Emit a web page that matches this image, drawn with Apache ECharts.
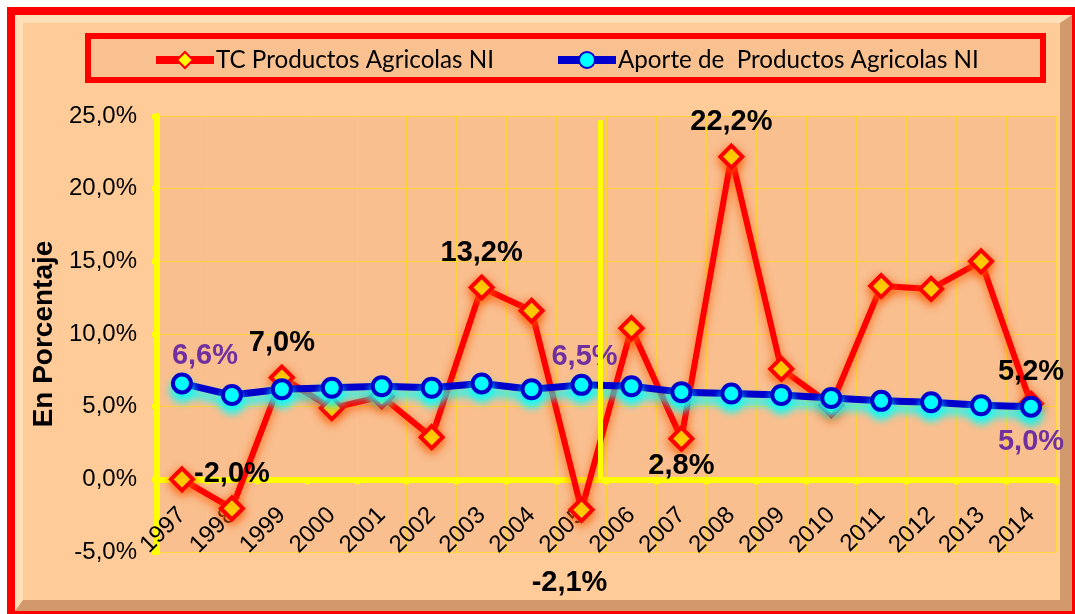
<!DOCTYPE html>
<html>
<head>
<meta charset="utf-8">
<script src="https://cdn.jsdelivr.net/npm/echarts@6/dist/echarts.min.js"></script>
<style>
html,body{margin:0;padding:0;background:#fff;}
#chart{width:1075px;height:614px;}
</style>
</head>
<body>
<div id="chart"></div>
<script>
// ---- data ----
const years = ['1997','1998','1999','2000','2001','2002','2003','2004','2005','2006','2007','2008','2009','2010','2011','2012','2013','2014'];
const tcAgricolas = [0.0, -2.0, 7.0, 4.9, 5.7, 2.9, 13.2, 11.6, -2.1, 10.4, 2.8, 22.2, 7.6, 5.1, 13.3, 13.1, 15.0, 5.2];
const aporteAgricolas = [6.6, 5.8, 6.2, 6.3, 6.4, 6.3, 6.6, 6.2, 6.5, 6.4, 6.0, 5.9, 5.8, 5.6, 5.4, 5.3, 5.1, 5.0];
const seriesNames = ['TC Productos Agricolas NI', 'Aporte de  Productos Agricolas NI'];
const yTicks = { min: -5, max: 25, interval: 5 };
const dividerPosition = 8.37;   // category index between 2005 and 2006
const dividerTop = 24.7;

// ---- layout ----
const gridTop = 116, gridBottom = 62, chartH = 614;
const gridH = chartH - gridTop - gridBottom;
const zeroOffset = -gridH * (0 - yTicks.min) / (yTicks.max - yTicks.min);

// ---- labelled points (index -> label style) ----
const fmt = v => v.toFixed(1).replace('.', ',') + '%';
const tcLabels = {
  1: { position: 'top', distance: 7 },
  2: { position: 'top', distance: 7 },
  6: { position: 'top', distance: 7 },
  8: { position: 'bottom', distance: 8, offset: [-12, 38] },
  10: { position: 'bottom', distance: 0 },
  11: { position: 'top', distance: 7 },
  17: { position: 'top', distance: 4 }
};
const apLabels = {
  0: { position: 'top', distance: 2, offset: [23, 0] },
  8: { position: 'top', distance: 2, offset: [3, 0] },
  17: { position: 'bottom', distance: 10 }
};
const labelBase = { show: true, fontFamily: 'Liberation Sans', fontWeight: 'bold', fontSize: 29, formatter: p => fmt(p.value) };

function buildData(values, labels, color) {
  return values.map((v, i) => {
    const d = { value: v };
    if (labels[i]) d.label = Object.assign({}, labelBase, { color: color }, labels[i]);
    return d;
  });
}

const chart = echarts.init(document.getElementById('chart'));
chart.setOption({
  backgroundColor: '#ffffff',
  animation: false,
  graphic: [
    { type: 'rect', z: -100, shape: { x: 11, y: 11, width: 1065, height: 604 },
      style: { fill: '#D29A6C', stroke: '#FF0000', lineWidth: 8 } },
    { type: 'polygon', z: -99, shape: { points: [[15,15],[1072,15],[1060,23],[23,23],[23,600],[15,611]] },
      style: { fill: '#FFE0B8' } },
    { type: 'rect', z: -98, shape: { x: 23, y: 23, width: 1037, height: 577 },
      style: { fill: '#FFCC99' } },
    { type: 'rect', z: -97, shape: { x: 88, y: 36, width: 955, height: 44 },
      style: { fill: '#F9C090', stroke: '#FF0000', lineWidth: 6 } }
  ],
  legend: {
    top: 48, left: 152, padding: 0,
    itemWidth: 58, itemHeight: 20, itemGap: 60,
    lineStyle: { width: 8 },
    textStyle: { fontFamily: 'Lato', fontSize: 24.2, color: '#000', padding: [0,0,0,-3] },
    data: seriesNames
  },
  grid: {
    left: 157, right: 19, top: gridTop, bottom: gridBottom,
    show: true, backgroundColor: '#F9BF8F', borderWidth: 0
  },
  xAxis: [{
    type: 'category',
    data: years,
    boundaryGap: true,
    position: 'bottom',
    offset: zeroOffset,
    axisLine: { onZero: false, lineStyle: { color: '#FFFF00', width: 6 } },
    axisTick: { show: true, interval: 0, length: 5, lineStyle: { color: '#FFFF00', width: 5 } },
    axisLabel: { interval: 0, rotate: 45, margin: 32, fontFamily: 'Liberation Sans', fontSize: 24, color: '#000' },
    splitLine: { show: true, interval: 0, lineStyle: { color: '#FFE000', width: 1, opacity: 0.6 } }
  }, {
    type: 'value', show: false, min: -0.5, max: years.length - 0.5
  }],
  yAxis: {
    type: 'value',
    min: yTicks.min, max: yTicks.max, interval: yTicks.interval,
    name: 'En Porcentaje',
    nameLocation: 'middle', nameRotate: 90, nameGap: 96,
    nameTextStyle: { fontFamily: 'Liberation Sans', fontWeight: 'bold', fontSize: 28, color: '#000' },
    axisLine: { show: true, onZero: false, lineStyle: { color: '#FFFF00', width: 6 } },
    axisTick: { show: true, length: 5, lineStyle: { color: '#FFFF00', width: 5 } },
    axisLabel: { margin: 20, fontFamily: 'Liberation Sans', fontSize: 24, color: '#000', formatter: v => fmt(v) },
    splitLine: { show: true, lineStyle: { color: '#FFE000', width: 1, opacity: 0.6 } }
  },
  series: [
    {
      name: seriesNames[0],
      type: 'line',
      data: buildData(tcAgricolas, tcLabels, '#000'),
      symbol: 'diamond', symbolSize: 22,
      lineStyle: { color: '#FF0000', width: 6, shadowColor: 'rgba(255,90,0,0.9)', shadowBlur: 10, shadowOffsetY: 3 },
      itemStyle: { color: '#FFFF00', borderColor: '#FF0000', borderWidth: 4, shadowColor: 'rgba(255,90,0,0.9)', shadowBlur: 10, shadowOffsetY: 3 },
      z: 3
    },
    {
      name: seriesNames[1],
      type: 'line',
      data: buildData(aporteAgricolas, apLabels, '#7030A0'),
      symbol: 'circle', symbolSize: 18,
      lineStyle: { color: '#0000CC', width: 7, shadowColor: 'rgba(0,255,255,1)', shadowBlur: 8, shadowOffsetY: 7 },
      itemStyle: { color: '#00FFFF', borderColor: '#0000CC', borderWidth: 4, shadowColor: 'rgba(0,255,255,1)', shadowBlur: 8, shadowOffsetY: 7 },
      z: 4
    },
    {
      type: 'line',
      xAxisIndex: 1,
      data: [],
      silent: true,
      z: 5,
      markLine: {
        silent: true, symbol: 'none', label: { show: false },
        lineStyle: { color: '#FFFF00', width: 5, type: 'solid' },
        data: [[{ coord: [dividerPosition, 0] }, { coord: [dividerPosition, dividerTop] }]]
      }
    }
  ]
});
</script>
</body>
</html>
